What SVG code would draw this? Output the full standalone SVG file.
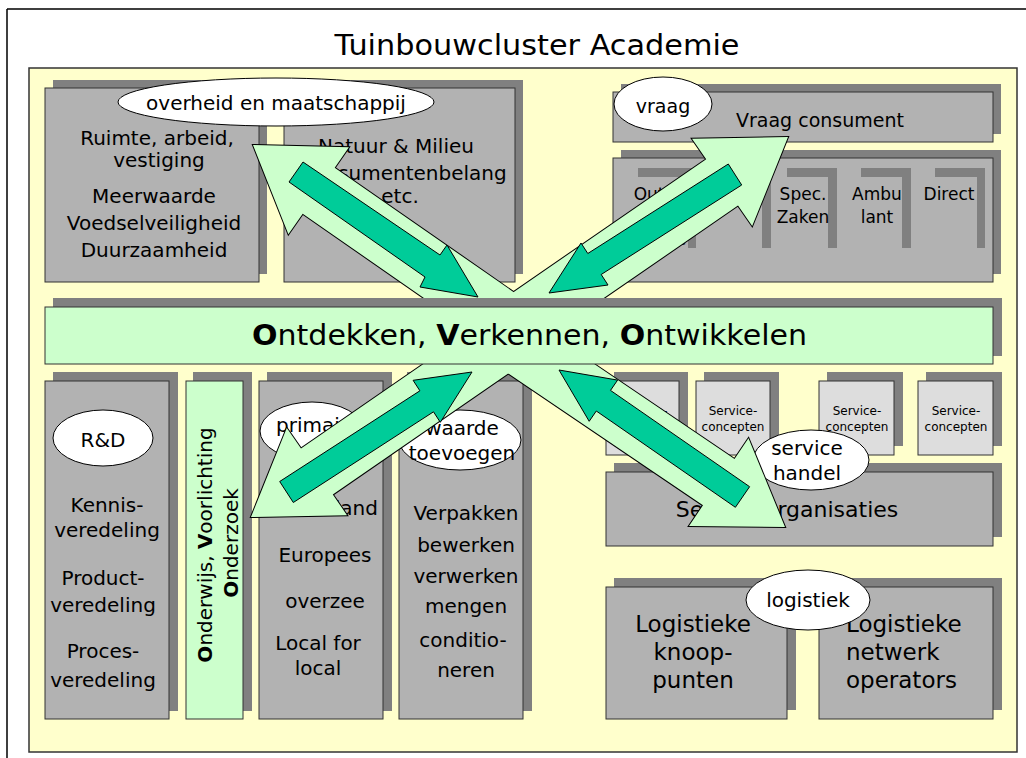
<svg xmlns="http://www.w3.org/2000/svg" width="1026" height="758" viewBox="0 0 1026 758">
<style>
.t{font-family:"DejaVu Sans",sans-serif;fill:#000;text-anchor:middle}
.ts{font-family:"DejaVu Sans",sans-serif;fill:#000;text-anchor:start}
.box{fill:#B2B2B2;stroke:#333;stroke-width:1}
.sh{fill:#808080}
.svc{fill:#DDDDDD;stroke:#333;stroke-width:1}
.grn{fill:#CCFFCC;stroke:#333;stroke-width:1}
.ell{fill:#fff;stroke:#000;stroke-width:1}
.la{fill:#CCFFCC;stroke:#000;stroke-width:2;stroke-linejoin:miter}
.laf{fill:#CCFFCC;stroke:none}
.da{fill:#00CC99;stroke:#000;stroke-width:1}
.f20{font-size:20px}
.f17{font-size:17px}
.f12{font-size:12px}
</style>
<rect x="0" y="0" width="1026" height="758" fill="#fff"/>
<path d="M7,9 H1026 M7,9 V758" fill="none" stroke="#000" stroke-width="1.5"/>
<text class="t" x="537" y="55" font-size="28" textLength="405" lengthAdjust="spacingAndGlyphs">Tuinbouwcluster Academie</text>
<rect x="29" y="68" width="988" height="684" fill="#FFFFCC" stroke="#333" stroke-width="1.5"/>

<g id="n-ruimte">
<rect class="sh" x="53" y="80" width="214" height="194"/>
<rect class="box" x="45" y="88" width="214" height="194"/>
<text class="t f20" x="157" y="145">Ruimte, arbeid,</text>
<text class="t f20" x="159" y="167">vestiging</text>
<text class="t f20" x="154" y="203">Meerwaarde</text>
<text class="t f20" x="154" y="230">Voedselveiligheid</text>
<text class="t f20" x="154" y="257">Duurzaamheid</text>
</g>
<g id="n-natuur">
<rect class="sh" x="292" y="80" width="231" height="194"/>
<rect class="box" x="284" y="88" width="231" height="194"/>
<text class="t f20" x="396" y="153">Natuur &amp; Milieu</text>
<text class="t f20" x="403" y="180">Consumentenbelang</text>
<text class="t f20" x="400" y="203">etc.</text>
</g>
<g id="n-overheid">
<ellipse class="ell" cx="276" cy="102" rx="158" ry="24"/>
<text class="t f20" x="276" y="110">overheid en maatschappij</text>
</g>

<g id="n-vraagconsument">
<rect class="sh" x="621" y="84" width="380" height="50"/>
<rect class="box" x="613" y="92" width="380" height="50"/>
<text class="t" font-size="19" x="820" y="127">Vraag consument</text>
</g>
<g id="n-vraag">
<ellipse class="ell" cx="663" cy="104" rx="49" ry="27"/>
<text class="t" font-size="19" x="663" y="113">vraag</text>
</g>
<g id="n-kanalen">
<rect class="sh" x="621" y="150" width="380" height="124"/>
<rect class="box" x="613" y="158" width="380" height="124"/>
<path class="sh" d="M638,168 H696 V248 H688 V177 H638 Z M712,168 H771 V248 H762 V177 H712 Z M787,168 H837 V248 H828 V177 H787 Z M861,168 H911 V248 H902 V177 H861 Z M935,168 H985 V248 H977 V177 H935 Z"/>
<text class="t f17" x="660" y="200">Out of</text>
<text class="t f17" x="662" y="245">home</text>
<text class="t f17" x="803" y="200">Spec.</text>
<text class="t f17" x="803" y="223">Zaken</text>
<text class="t f17" x="877" y="200">Ambu</text>
<text class="t f17" x="877" y="223">lant</text>
<text class="t f17" x="949" y="200">Direct</text>
</g>

<g id="n-rd">
<rect class="sh" x="53" y="372" width="125" height="339"/>
<rect class="box" x="45" y="381" width="124" height="338"/>
<ellipse class="ell" cx="103" cy="438" rx="50" ry="28"/>
<text class="t f20" x="103" y="447">R&amp;D</text>
<text class="t f20" x="107" y="512">Kennis-</text>
<text class="t f20" x="107" y="537">veredeling</text>
<text class="t f20" x="103" y="585">Product-</text>
<text class="t f20" x="103" y="612">veredeling</text>
<text class="t f20" x="103" y="658">Proces-</text>
<text class="t f20" x="103" y="687">veredeling</text>
</g>
<g id="n-onderwijs">
<rect class="sh" x="193" y="372" width="59" height="339"/>
<rect class="grn" x="186" y="381" width="57" height="338"/>
<text class="t f20" transform="translate(212,545) rotate(-90)"><tspan font-weight="bold">O</tspan>nderwijs, <tspan font-weight="bold">V</tspan>oorlichting</text>
<text class="t f20" transform="translate(238,543) rotate(-90)"><tspan font-weight="bold">O</tspan>nderzoek</text>
</g>
<g id="n-primair">
<rect class="sh" x="267" y="372" width="125" height="339"/>
<rect class="box" x="259" y="381" width="124" height="338"/>
<ellipse class="ell" cx="312" cy="431" rx="52" ry="29"/>
<text class="t f20" x="312" y="432">primair</text>
<text class="t f20" x="326" y="515">Nederland</text>
<text class="t f20" x="325" y="562">Europees</text>
<text class="t f20" x="325" y="608">overzee</text>
<text class="t f20" x="318" y="650">Local for</text>
<text class="t f20" x="318" y="675">local</text>
</g>
<g id="n-waarde">
<rect class="sh" x="407" y="372" width="125" height="339"/>
<rect class="box" x="399" y="381" width="124" height="338"/>
<ellipse class="ell" cx="460" cy="440" rx="61" ry="30"/>
<text class="t f20" x="462" y="435">waarde</text>
<text class="t f20" x="462" y="460">toevoegen</text>
<text class="t f20" x="466" y="520">Verpakken</text>
<text class="t f20" x="466" y="552">bewerken</text>
<text class="t f20" x="466" y="583">verwerken</text>
<text class="t f20" x="466" y="613">mengen</text>
<text class="t f20" x="463" y="647">conditio-</text>
<text class="t f20" x="466" y="677">neren</text>
</g>

<g id="n-service1">
<rect class="sh" x="614" y="372" width="74" height="74"/>
<rect class="svc" x="606" y="381" width="73" height="74"/>
<text class="t f12" x="643" y="415">Service-</text>
<text class="t f12" x="643" y="431">concepten</text>
</g>
<g id="n-service2">
<rect class="sh" x="704" y="372" width="75" height="74"/>
<rect class="svc" x="696" y="381" width="74" height="74"/>
<text class="t f12" x="733" y="415">Service-</text>
<text class="t f12" x="733" y="431">concepten</text>
</g>
<g id="n-service3">
<rect class="sh" x="827" y="372" width="76" height="74"/>
<rect class="svc" x="819" y="381" width="75" height="74"/>
<text class="t f12" x="857" y="415">Service-</text>
<text class="t f12" x="857" y="431">concepten</text>
</g>
<g id="n-service4">
<rect class="sh" x="926" y="372" width="76" height="74"/>
<rect class="svc" x="918" y="381" width="75" height="74"/>
<text class="t f12" x="956" y="415">Service-</text>
<text class="t f12" x="956" y="431">concepten</text>
</g>
<g id="n-serviceorg">
<rect class="sh" x="614" y="463" width="388" height="74"/>
<rect class="box" x="606" y="472" width="387" height="74"/>
<text class="t" font-size="22" x="787" y="517">Service organisaties</text>
</g>
<g id="n-servicehandel">
<ellipse class="ell" cx="811" cy="460" rx="58" ry="30"/>
<text class="t f20" x="807" y="455">service</text>
<text class="t f20" x="807" y="480">handel</text>
</g>
<g id="n-knooppunten">
<rect class="sh" x="614" y="578" width="182" height="132"/>
<rect class="box" x="606" y="587" width="181" height="132"/>
<text class="t" font-size="23" x="693" y="632">Logistieke</text>
<text class="t" font-size="23" x="693" y="660">knoop-</text>
<text class="t" font-size="23" x="693" y="688">punten</text>
</g>
<g id="n-netwerk">
<rect class="sh" x="827" y="578" width="175" height="132"/>
<rect class="box" x="819" y="587" width="174" height="132"/>
<text class="ts" font-size="23" x="846" y="632">Logistieke</text>
<text class="ts" font-size="23" x="846" y="660">netwerk</text>
<text class="ts" font-size="23" x="846" y="688">operators</text>
</g>
<g id="n-logistiek">
<ellipse class="ell" cx="808" cy="600" rx="62" ry="30"/>
<text class="t f20" x="808" y="607">logistiek</text>
</g>

<g id="connectors">
<g id="light-arrows">
<polygon class="la" points="535,307 334.7,167.7 348.9,147.2 253,145 288.4,234.2 302.7,213.7 503,353"/>
<polygon class="la" points="523.9,353.1 738,205.5 752.2,226 788,137 692,138.8 706.2,159.3 492.1,306.9"/>
<polygon class="la" points="506.1,307 301,448.5 286.8,428 251,517 347,515.2 332.8,494.6 537.9,353.1"/>
<polygon class="la" points="478.3,353.2 703,505.3 689,526 785,527 748.5,438.3 734.5,459 509.7,306.8"/>
<polygon class="laf" points="535,307 334.7,167.7 348.9,147.2 253,145 288.4,234.2 302.7,213.7 503,353"/>
<polygon class="laf" points="523.9,353.1 738,205.5 752.2,226 788,137 692,138.8 706.2,159.3 492.1,306.9"/>
<polygon class="laf" points="506.1,307 301,448.5 286.8,428 251,517 347,515.2 332.8,494.6 537.9,353.1"/>
<polygon class="laf" points="478.3,353.2 703,505.3 689,526 785,527 748.5,438.3 734.5,459 509.7,306.8"/>
</g>
</g>

<g id="n-ontdekken">
<rect class="sh" x="53" y="298" width="949" height="58"/>
<rect class="grn" x="45" y="307" width="948" height="57"/>
<text class="t" font-size="29" x="529.5" y="345" textLength="555" lengthAdjust="spacingAndGlyphs"><tspan font-weight="bold">O</tspan>ntdekken, <tspan font-weight="bold">V</tspan>erkennen, <tspan font-weight="bold">O</tspan>ntwikkelen</text>
</g>

<g id="connectors-dark">
<polygon class="da" points="303,162 440,255 447,245 478,297 420,287 425,277 289,182"/>
<polygon class="da" points="728.3,164 587.8,253.5 581,243 549,293 608,285 601.2,274.5 741.7,185"/>
<polygon class="da" points="279.7,481.5 419.9,390.8 413.1,380.3 472,372 440.3,422.3 433.5,411.8 293.3,502.5"/>
<polygon class="da" points="749.6,486.7 610.5,390.4 617.6,380.1 559,370 589.2,421.3 596.3,411 735.4,507.3"/>
</g>
</svg>
